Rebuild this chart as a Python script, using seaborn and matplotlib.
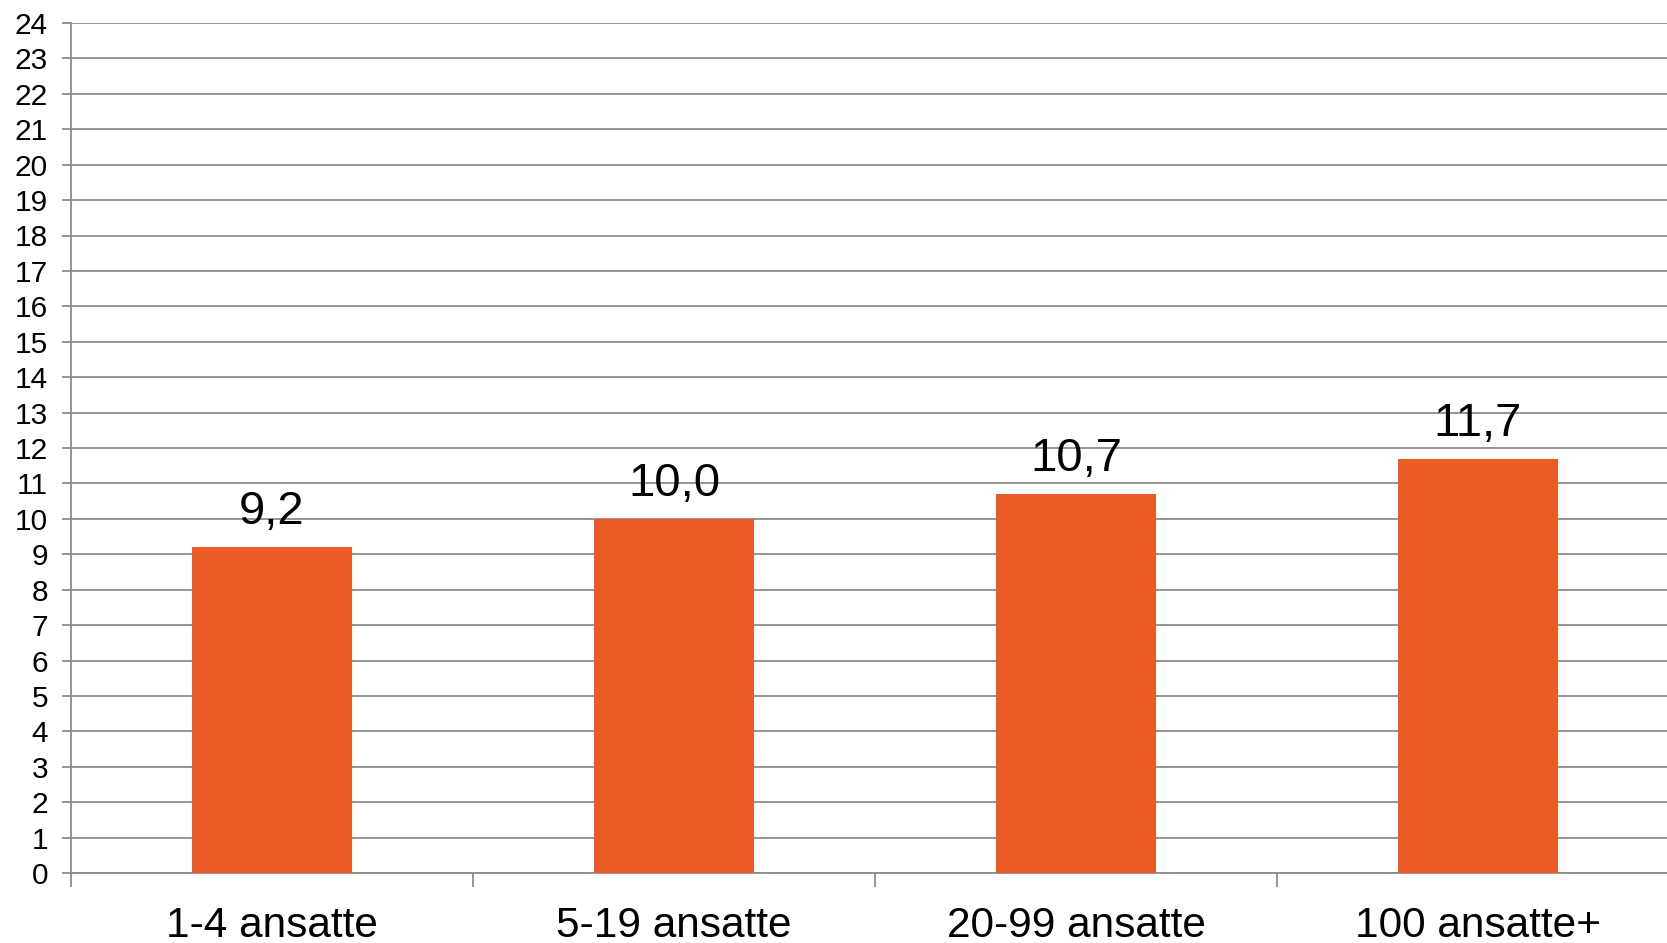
import matplotlib
matplotlib.use("Agg")
import matplotlib.pyplot as plt
import seaborn as sns
import pandas as pd

categories = ["1-4 ansatte", "5-19 ansatte", "20-99 ansatte", "100 ansatte+"]
values = [9.2, 10.0, 10.7, 11.7]
labels = ["9,2", "10,0", "10,7", "11,7"]
yticks = list(range(0, 25))

sns.set_theme(style="white")
plt.rcParams['font.family'] = ['Liberation Sans', 'DejaVu Sans']

df = pd.DataFrame({"cat": categories, "val": values})

fig = plt.figure(figsize=(16.67, 9.43), dpi=100)
ax = fig.add_axes([71/1667, 70/943, 1608/1667, (873-23)/943])

sns.barplot(data=df, x="cat", y="val", color="#EB5B25", saturation=1,
            width=0.40, ax=ax, zorder=3, linewidth=0)

grid_c = "#8C8C8C"
ax.set_ylim(0, 24)
ax.set_xlim(-0.5, 3.5)
ax.set_yticks(yticks)
ax.set_yticklabels([str(t) for t in yticks], fontsize=21.5, color="black")
ax.yaxis.grid(True, color=grid_c, linewidth=1.3, zorder=0)
ax.set_axisbelow(True)
ax.tick_params(axis="y", length=6.5, width=1.3, color=grid_c, pad=10, left=True)
ax.set_xticks([-0.5, 0.5, 1.5, 2.5, 3.5], minor=True)
ax.set_xticks(range(len(categories)))
ax.set_xticklabels(categories, fontsize=30.5, color="black")
ax.tick_params(axis="x", which="major", length=0, pad=24)
ax.tick_params(axis="x", which="minor", length=10, width=1.3, color=grid_c, bottom=True)
ax.set_xlabel("")
ax.set_ylabel("")
for s in ["top", "right"]:
    ax.spines[s].set_visible(False)
for s in ["left", "bottom"]:
    ax.spines[s].set_color(grid_c)
    ax.spines[s].set_linewidth(1.3)

for i, (v, l) in enumerate(zip(values, labels)):
    ax.annotate(l, (i, v), xytext=(0, 16.5), textcoords="offset points",
                ha="center", va="baseline", fontsize=34, color="black")

fig.savefig("out.png", dpi=100)
